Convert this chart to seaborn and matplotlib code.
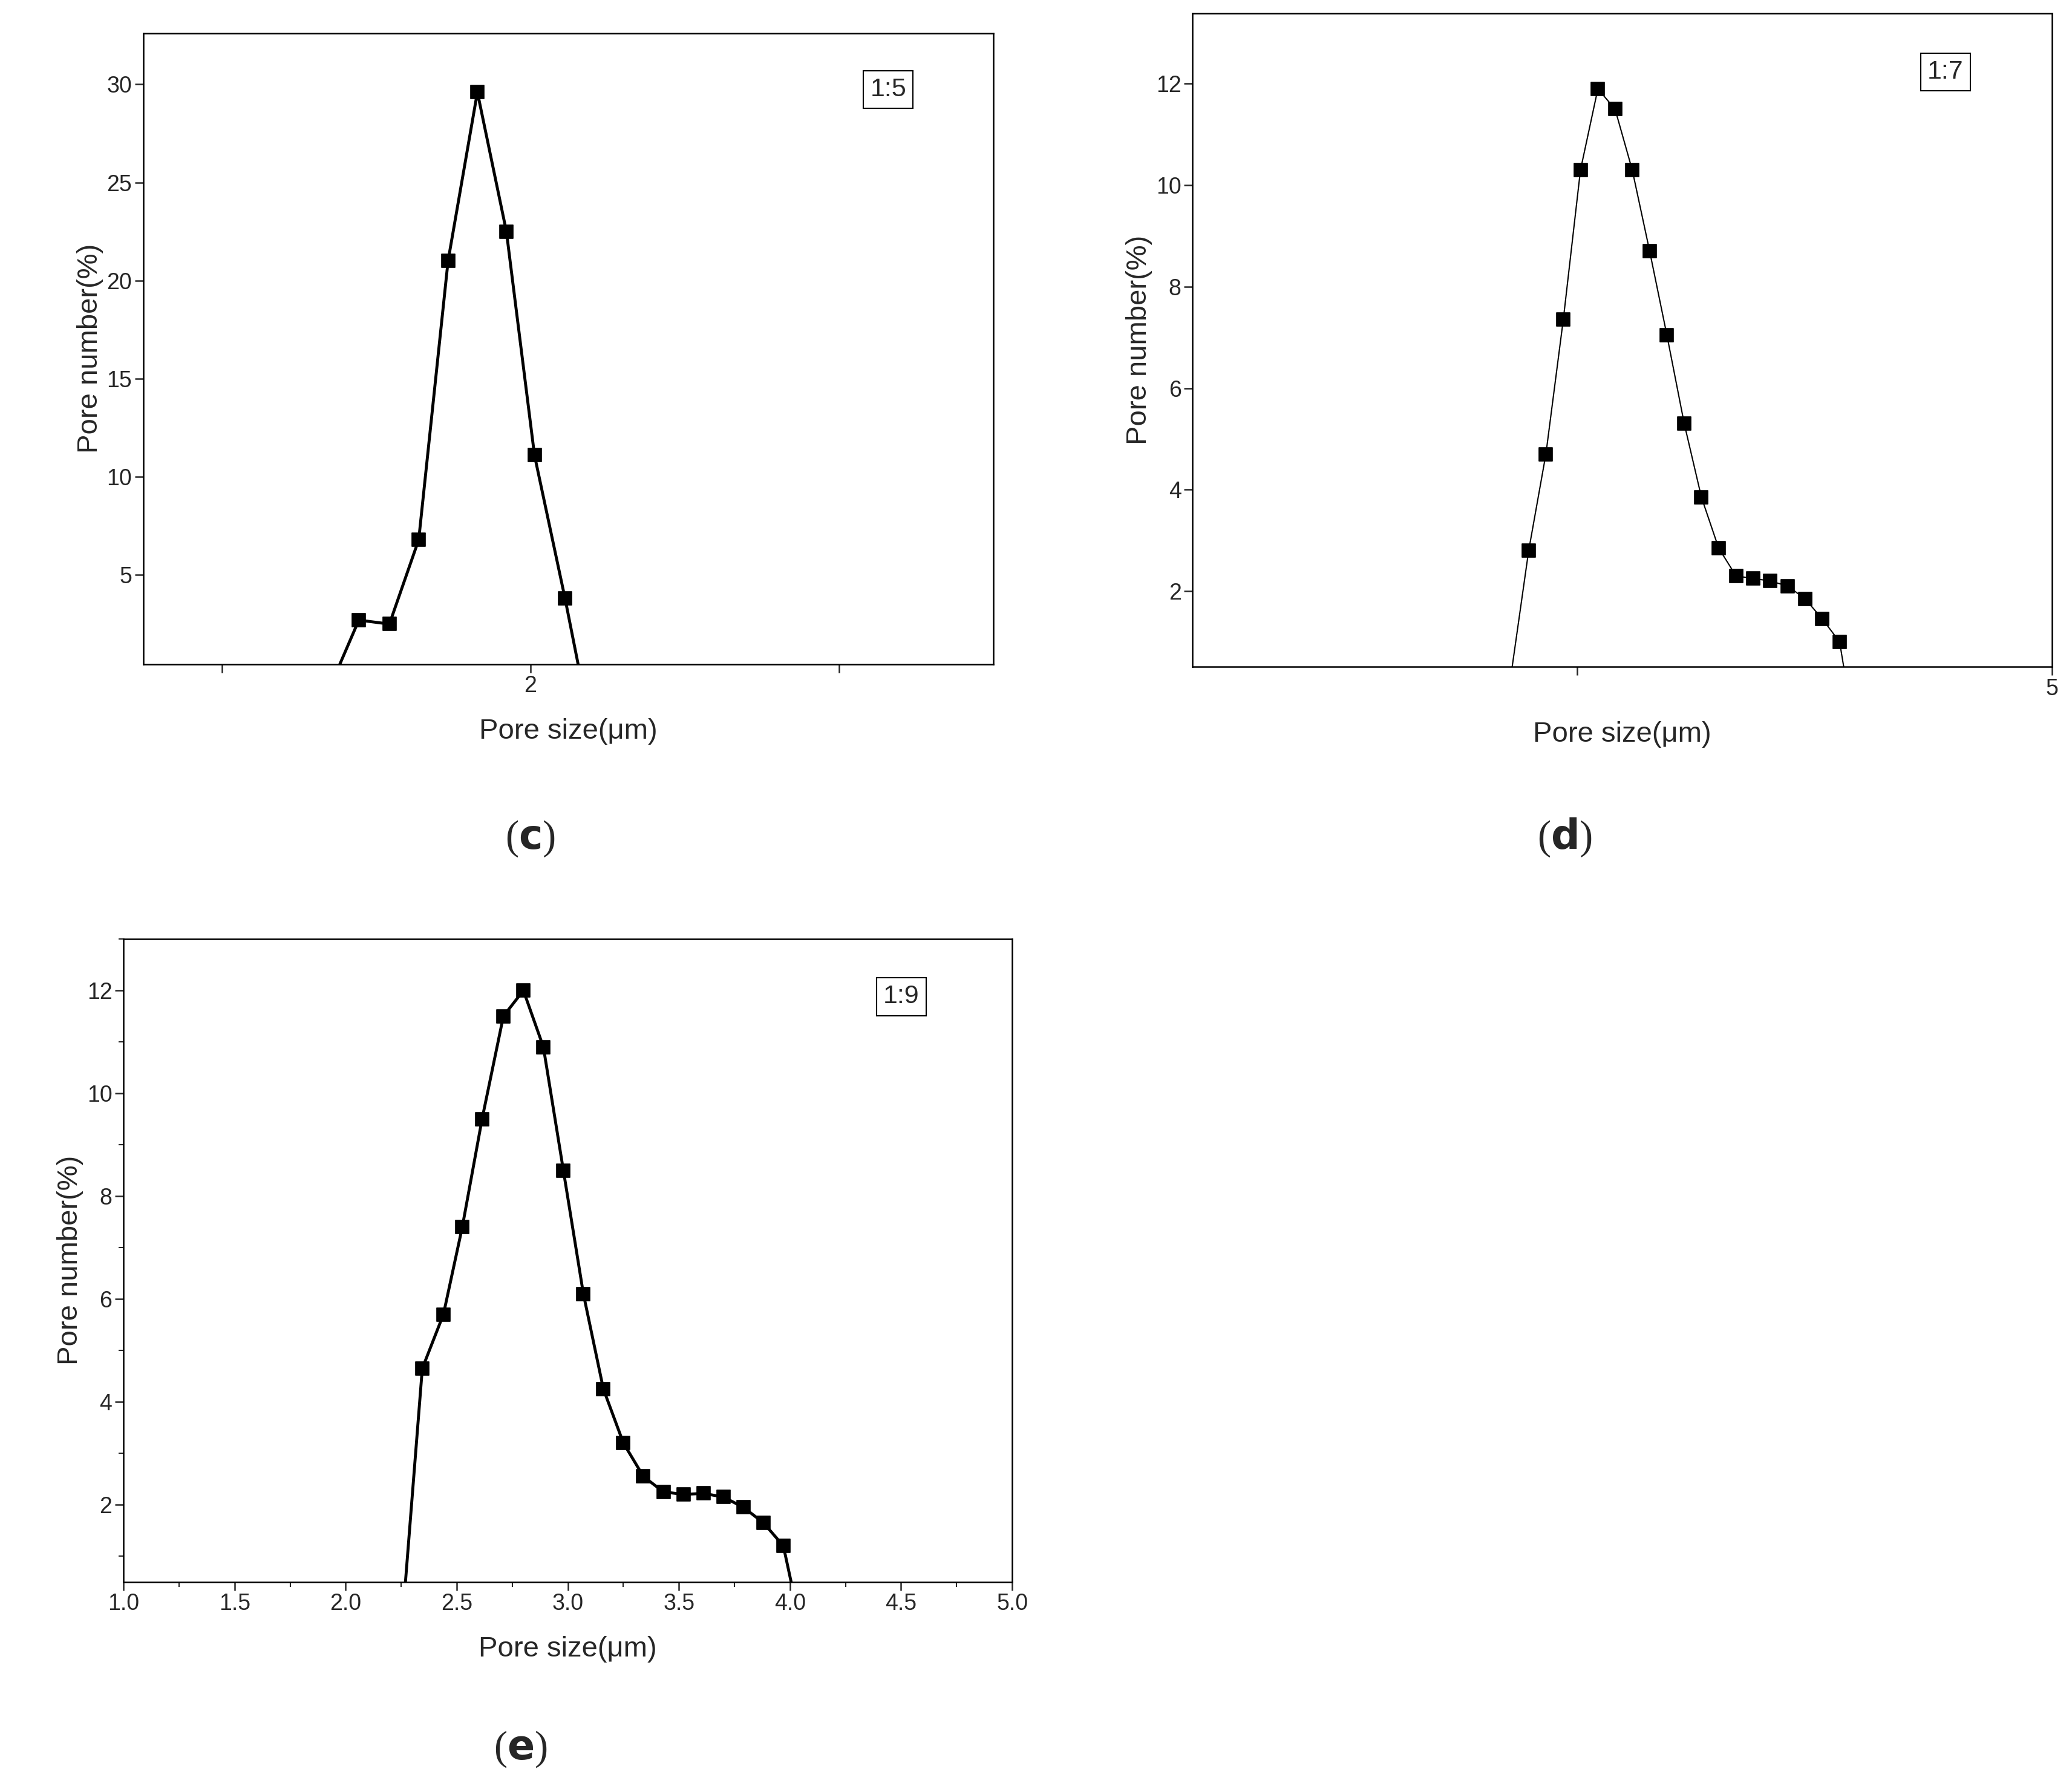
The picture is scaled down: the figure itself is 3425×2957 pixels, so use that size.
import matplotlib
matplotlib.use("Agg")
import matplotlib.pyplot as plt
import seaborn as sns
import pandas as pd

sns.set_style("white")
plt.rcParams["font.family"] = "Liberation Sans"

# panel (c)
c_x = [1.444, 1.543, 1.638, 1.733, 1.828, 1.922, 2.013, 2.112]
c_y = [2.7, 2.5, 6.8, 21.0, 29.6, 22.5, 11.1, 3.8]
c_ends_x = [1.37, 2.16]
# panel (d)
d_x = [2.564, 2.644, 2.725, 2.805, 2.886, 2.966, 3.046, 3.127, 3.207, 3.288,
       3.368, 3.448, 3.529, 3.609, 3.689, 3.770, 3.850, 3.931, 4.011]
d_y = [2.8, 4.7, 7.35, 10.3, 11.9, 11.5, 10.3, 8.7, 7.05, 5.3,
       3.85, 2.85, 2.3, 2.25, 2.2, 2.1, 1.85, 1.45, 1.0]
d_ends_x = [2.47, 4.05]
# panel (e)
e_x = [2.345, 2.44, 2.525, 2.614, 2.71, 2.80, 2.89, 2.98, 3.07, 3.16,
       3.25, 3.34, 3.43, 3.52, 3.61, 3.70, 3.79, 3.88, 3.97]
e_y = [4.65, 5.7, 7.4, 9.5, 11.5, 12.0, 10.9, 8.5, 6.1, 4.25,
       3.2, 2.55, 2.25, 2.2, 2.22, 2.15, 1.95, 1.65, 1.2]
e_ends_x = [2.26, 4.03]

fig = plt.figure(figsize=(34.25, 29.57), dpi=100)
axc = fig.add_axes([0.0692, 0.6288, 0.4103, 0.3526])
axd = fig.add_axes([0.5756, 0.6273, 0.4148, 0.3653])
axe = fig.add_axes([0.0596, 0.1158, 0.4289, 0.3593])

def draw(ax, xs, ys, ends, lw, label):
    full = pd.DataFrame({"x": [ends[0]] + xs + [ends[1]], "y": [0] + ys + [0]})
    sns.lineplot(data=full, x="x", y="y", ax=ax, color="black", lw=lw, sort=False)
    sns.scatterplot(data=pd.DataFrame({"x": xs, "y": ys}), x="x", y="y", ax=ax,
                    color="black", marker="s", s=230, edgecolor="black", zorder=3)
    ax.set_xlabel("Pore size(μm)", fontsize=34, labelpad=25)
    ax.set_ylabel("Pore number(%)", fontsize=34)
    for s in ax.spines.values():
        s.set_color("black"); s.set_linewidth(1.8)
    ax.tick_params(labelsize=27, direction="out", length=10, width=1.8,
                   left=True, bottom=True)
    ax.text(0.855, 0.9, label, transform=ax.transAxes, fontsize=31,
            bbox=dict(facecolor="white", edgecolor="black", lw=1.5, pad=8))

draw(axc, c_x, c_y, c_ends_x, 3.5, "1:5")
axc.set_xlim(0.746, 3.5); axc.set_ylim(0.46, 32.6)
axc.set_xticks([1, 2, 3]); axc.set_xticklabels(["", "2", ""])
axc.set_yticks([5, 10, 15, 20, 25, 30])

draw(axd, d_x, d_y, d_ends_x, 1.5, "1:7")
axd.set_xlim(1, 5); axd.set_ylim(0.51, 13.39)
axd.set_xticks([2.79, 5]); axd.set_xticklabels(["", "5"])
axd.set_yticks([2, 4, 6, 8, 10, 12])

draw(axe, e_x, e_y, e_ends_x, 3.5, "1:9")
axe.set_xlim(1, 5); axe.set_ylim(0.5, 13.0)
axe.set_xticks([1.0, 1.5, 2.0, 2.5, 3.0, 3.5, 4.0, 4.5, 5.0])
axe.set_xticklabels(["1.0", "1.5", "2.0", "2.5", "3.0", "3.5", "4.0", "4.5", "5.0"])
axe.set_yticks([2, 4, 6, 8, 10, 12])
axe.set_xticks([1.25, 1.75, 2.25, 2.75, 3.25, 3.75, 4.25, 4.75], minor=True)
axe.set_yticks([1, 3, 5, 7, 9, 11, 13], minor=True)
axe.tick_params(which="minor", direction="out", length=6, width=1.5, left=True, bottom=True)

for x, y, t in [(0.2558, 0.52, "c"), (0.7551, 0.52, "d"), (0.2513, 0.011, "e")]:
    fig.text(x, y, "(" + r"$\mathbf{" + t + "}$" + ")", fontsize=48,
             family="Liberation Serif", ha="center", va="bottom")

fig.savefig("out.png", dpi=100)
